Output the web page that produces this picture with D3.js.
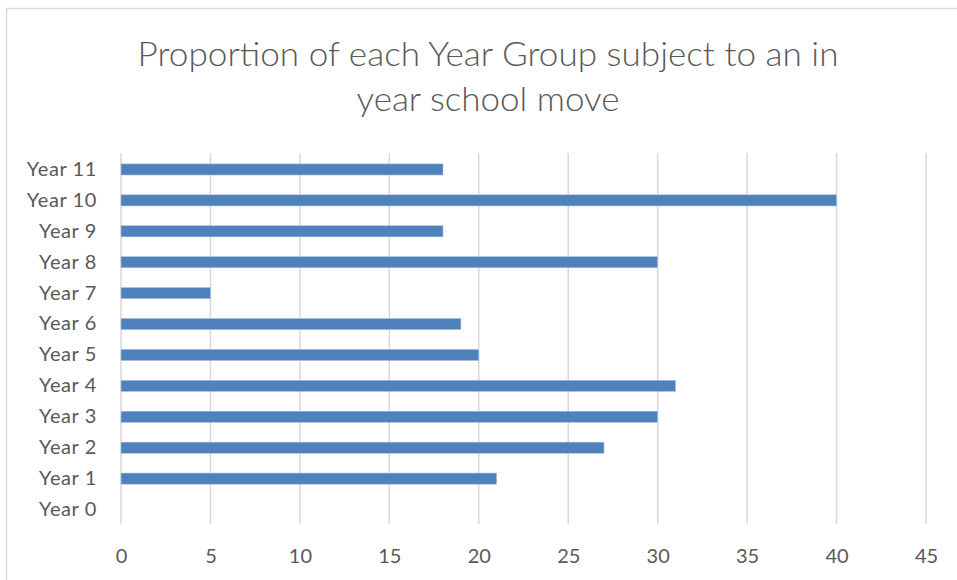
<!DOCTYPE html>
<html>
<head>
<meta charset="utf-8">
<script src="https://cdn.jsdelivr.net/npm/d3@7"></script>
<style>
  html, body { margin: 0; padding: 0; background: #fff; }
  svg { display: block; }
  text { font-family: Lato, "Open Sans", sans-serif; fill: #595959; }
</style>
</head>
<body>
<svg id="chart" width="957" height="580"></svg>
<script>
// Year groups, top of chart first
const categories = ["Year 11", "Year 10", "Year 9", "Year 8", "Year 7", "Year 6",
                    "Year 5", "Year 4", "Year 3", "Year 2", "Year 1", "Year 0"];
// Percentage of each year group subject to an in-year school move
const values = [18, 40, 18, 30, 5, 19, 20, 31, 30, 27, 21, 0];
const xTicks = [0, 5, 10, 15, 20, 25, 30, 35, 40, 45];
const titleLines = ["Proportion of each Year Group subject to an in", "year school move"];
const titleWidths = [701, 263];

const svg = d3.select("#chart");
const W = 957, H = 580;
const plot = { left: 121, right: 926, top: 153, bottom: 524 };

// Chart-area frame
svg.append("rect")
  .attr("x", 6.5).attr("y", 8.5)
  .attr("width", W + 10).attr("height", H + 10)
  .attr("fill", "#fff").attr("stroke", "#d9d9d9").attr("stroke-width", 1.5);

const x = d3.scaleLinear().domain([0, 45]).range([plot.left, plot.right]);
const y = d3.scaleBand().domain(categories).range([plot.top + 1, plot.bottom + 1])
  .paddingInner(0.64).paddingOuter(0.32);

// Vertical gridlines
svg.append("g").selectAll("line").data(xTicks).join("line")
  .attr("x1", d => x(d)).attr("x2", d => x(d))
  .attr("y1", plot.top).attr("y2", plot.bottom)
  .attr("stroke", "#d9d9d9").attr("stroke-width", 1.5);

// Bars
svg.append("g").selectAll("rect").data(values).join("rect")
  .attr("x", x(0))
  .attr("y", (d, i) => y(categories[i]))
  .attr("width", d => x(d) - x(0))
  .attr("height", y.bandwidth())
  .attr("fill", "#4f81bd")
  .attr("stroke", "#a9c1e0").attr("stroke-width", 0.6);

// Category axis labels
const yAxis = svg.append("g")
  .attr("transform", `translate(${plot.left},0)`)
  .call(d3.axisLeft(y).tickSize(0).tickPadding(24));
yAxis.select(".domain").remove();
yAxis.selectAll("text")
  .style("font-size", "20px").style("letter-spacing", "0.6px").attr("fill", "#595959")
  .style("font-family", "Lato, 'Open Sans', sans-serif");

// Value axis labels
const xAxis = svg.append("g")
  .attr("transform", `translate(0,${plot.bottom})`)
  .call(d3.axisBottom(x).tickValues(xTicks).tickSize(0).tickPadding(25));
xAxis.select(".domain").remove();
xAxis.selectAll("text")
  .style("font-size", "20px").attr("fill", "#595959")
  .style("font-family", "Lato, 'Open Sans', sans-serif");

// Title
svg.append("g").selectAll("text").data(titleLines).join("text")
  .attr("x", 488)
  .attr("y", (d, i) => 66 + i * 45)
  .attr("text-anchor", "middle")
  .attr("textLength", (d, i) => titleWidths[i])
  .attr("lengthAdjust", "spacingAndGlyphs")
  .style("font-size", "33px")
  .style("font-weight", 300)
  .text(d => d);
</script>
</body>
</html>
